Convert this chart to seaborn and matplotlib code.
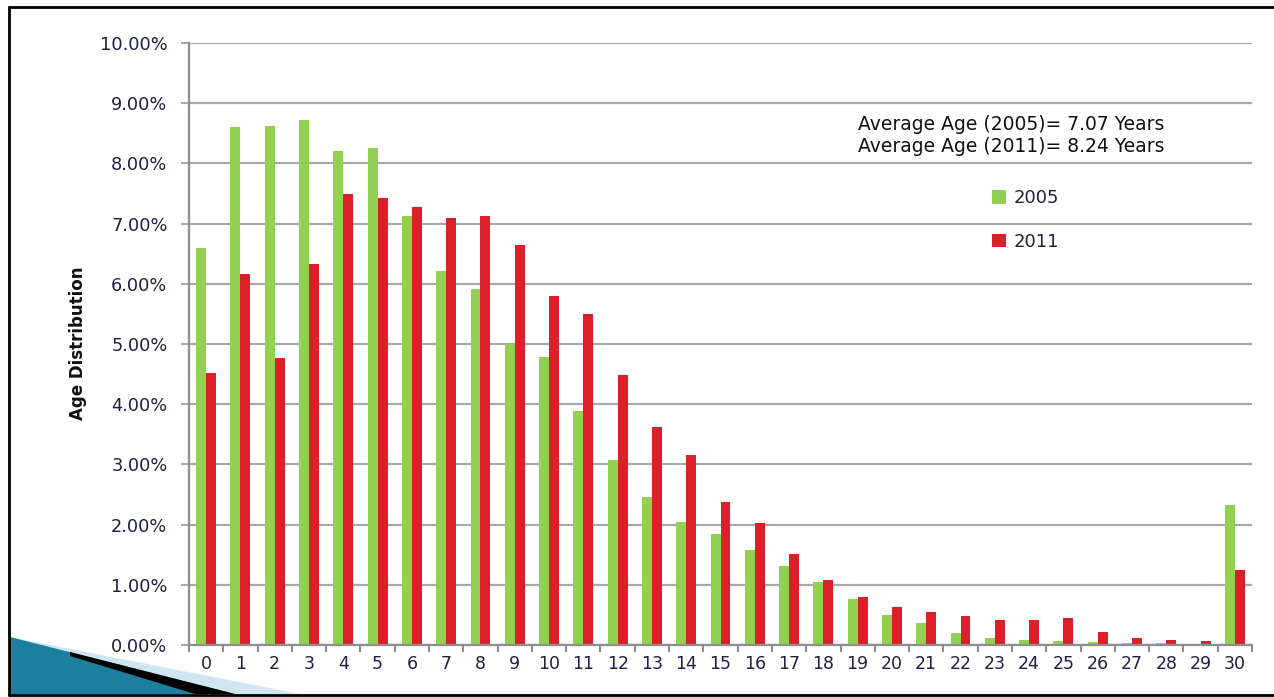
import matplotlib
matplotlib.use("Agg")
import matplotlib.pyplot as plt
from matplotlib.lines import Line2D
from matplotlib.patches import Polygon
from matplotlib.ticker import FuncFormatter, FixedLocator
import numpy as np
import pandas as pd
import seaborn as sns

# Vehicle age (years) and share of fleet (%) for each survey year
ages = [str(a) for a in range(31)]
share_2005 = [6.60, 8.60, 8.62, 8.72, 8.20, 8.25, 7.12, 6.21, 5.91, 5.00,
              4.78, 3.89, 3.07, 2.46, 2.04, 1.84, 1.58, 1.31, 1.05, 0.76,
              0.50, 0.36, 0.20, 0.12, 0.09, 0.07, 0.05, 0.03, 0.03, 0.02,
              2.33]
share_2011 = [4.52, 6.16, 4.77, 6.33, 7.49, 7.43, 7.28, 7.09, 7.12, 6.64,
              5.80, 5.50, 4.49, 3.62, 3.16, 2.37, 2.03, 1.51, 1.08, 0.80,
              0.63, 0.55, 0.48, 0.42, 0.42, 0.45, 0.22, 0.12, 0.09, 0.06,
              1.25]
years = ["2005", "2011"]
y_ticks = list(range(0, 11))
notes = ["Average Age (2005)= 7.07 Years", "Average Age (2011)= 8.24 Years"]

df = pd.DataFrame({
    "age": ages * 2,
    "share": share_2005 + share_2011,
    "year": [years[0]] * len(ages) + [years[1]] * len(ages),
})

sns.set_theme(style="white")
plt.rcParams["font.family"] = ["DejaVu Sans"]
text_color = "#1f2042"
grid_color = "#a8a8a8"
axis_color = "#8e8e8e"
palette = {"2005": "#92d050", "2011": "#dd1f2a"}

W, H = 1274, 697
fig = plt.figure(figsize=(W / 100, H / 100), dpi=100)
ax = fig.add_axes([189 / W, 1 - 645 / H, (1252 - 189) / W, (645 - 43) / H])

sns.barplot(data=df, x="age", y="share", hue="year", order=ages,
            hue_order=years, palette=palette, width=0.58, saturation=1,
            ax=ax, linewidth=0)

ax.set_xlim(-0.5, len(ages) - 0.5)
ax.set_ylim(0, 10)
ax.yaxis.set_major_locator(FixedLocator(y_ticks))
ax.yaxis.set_major_formatter(FuncFormatter(lambda v, p: f"{v:.2f}%"))
ax.grid(axis="y", color=grid_color, linewidth=1.6)
ax.set_axisbelow(True)

# category boundaries carry the tick marks, labels sit at the centres
ax.xaxis.set_minor_locator(FixedLocator(np.arange(-0.5, len(ages), 1.0)))
ax.tick_params(axis="x", which="major", length=0, pad=7,
               labelsize=12.5, labelcolor=text_color)
ax.tick_params(axis="x", which="minor", bottom=True, length=5, width=1.5,
               color=axis_color, direction="out")
ax.tick_params(axis="y", left=True, length=6, width=1.5, color=grid_color,
               pad=9.5, labelsize=12.8, labelcolor=text_color)

for side in ("top", "right"):
    ax.spines[side].set_visible(False)
for side in ("left", "bottom"):
    ax.spines[side].set_color(axis_color)
    ax.spines[side].set_linewidth(1.6)

ax.set_xlabel("")
ax.set_ylabel("")
fig.text(78 / W, 1 - 343 / H, "Age Distribution", rotation=90,
         ha="center", va="center", fontsize=12, fontweight="bold",
         color="#111111")

handles, labels = ax.get_legend_handles_labels()
ax.legend(handles, labels, frameon=False, fontsize=13,
          labelcolor=text_color, handlelength=0.75, handleheight=0.75,
          handletextpad=0.45, labelspacing=1.4, loc="upper left",
          bbox_to_anchor=(976 / W, 1 - 173 / H),
          bbox_transform=fig.transFigure)

for i, line in enumerate(notes):
    fig.text(858 / W, 1 - (125 + 22 * i) / H, line, ha="left", va="center",
             fontsize=13.5, color="#111111")

# slide frame
frame = dict(color="black", linewidth=2, transform=fig.transFigure)
fig.add_artist(Line2D([8.5 / W, 1], [1 - 7 / H, 1 - 7 / H], **frame))
fig.add_artist(Line2D([8.5 / W, 8.5 / W], [1 - 7 / H, 1 - 695 / H], **frame))
fig.add_artist(Line2D([8.5 / W, 1], [1 - 695 / H, 1 - 695 / H], **frame))

# corner bullet ornament
def fpt(x, y):
    return (x / W, 1 - y / H)

fig.add_artist(Polygon([fpt(10, 637), fpt(300, 694), fpt(10, 694)],
                       closed=True, transform=fig.transFigure,
                       facecolor="#cfe6f0", edgecolor="none"))
fig.add_artist(Polygon([fpt(10, 637), fpt(235, 694), fpt(10, 694)],
                       closed=True, transform=fig.transFigure,
                       facecolor="#1d7f9e", edgecolor="none"))
fig.add_artist(Polygon([fpt(70, 652), fpt(235, 694), fpt(195, 694),
                        fpt(70, 656)],
                       closed=True, transform=fig.transFigure,
                       facecolor="black", edgecolor="none"))

fig.savefig("out.png", dpi=100)
